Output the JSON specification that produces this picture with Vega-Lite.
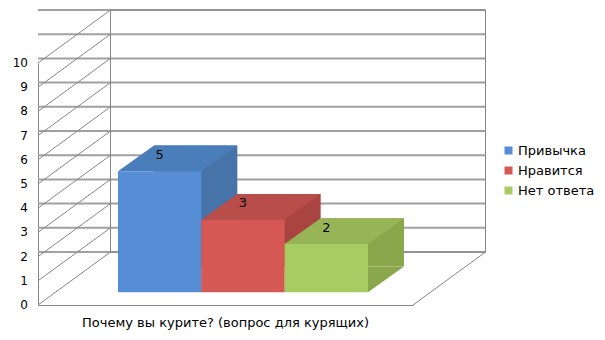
{
  "$schema": "https://vega.github.io/schema/vega-lite/v6.json",
  "width": 375,
  "height": 242,
  "autosize": "none",
  "padding": {"left": 38, "top": 63, "right": 192, "bottom": 35},
  "background": "white",
  "config": {
    "view": {"stroke": null},
    "font": "DejaVu Sans",
    "axisY": {"ticks": false, "grid": false, "labels": false, "domainColor": "#868686", "domainWidth": 1},
    "axisX": {"ticks": false, "grid": false, "domainColor": "#868686", "domainWidth": 1, "labelPadding": 11, "labelFontSize": 13, "labelColor": "#000000", "labelFont": "DejaVu Sans", "labelAngle": 0, "labelLimit": 0}
  },
  "datasets": {
    "answers": [
      {"question": "Почему вы курите? (вопрос для курящих)", "answer": "Привычка", "count": 5},
      {"question": "Почему вы курите? (вопрос для курящих)", "answer": "Нравится", "count": 3},
      {"question": "Почему вы курите? (вопрос для курящих)", "answer": "Нет ответа", "count": 2}
    ],
    "levels": [
      {"level": 0}, {"level": 1}, {"level": 2}, {"level": 3}, {"level": 4}, {"level": 5},
      {"level": 6}, {"level": 7}, {"level": 8}, {"level": 9}, {"level": 10}
    ]
  },
  "resolve": {"scale": {"x": "independent"}},
  "layer": [
    {
      "data": {"name": "levels"},
      "layer": [
        {
          "mark": {"type": "rule", "color": "#A0A0A0", "strokeWidth": 2, "xOffset": 72.5, "x2Offset": 72.5, "yOffset": -53},
          "encoding": {
            "y": {"field": "level", "type": "quantitative", "scale": {"domain": [0, 10], "nice": false}, "axis": {"title": null}}
          }
        },
        {
          "mark": {"type": "rule", "color": "#868686", "strokeWidth": 1, "x2Offset": 72.5, "y2Offset": -53},
          "encoding": {
            "x": {"datum": "Почему вы курите? (вопрос для курящих)", "type": "nominal", "bandPosition": 0, "scale": {"paddingInner": 0, "paddingOuter": 0}, "axis": {"title": null}},
            "x2": {"datum": "Почему вы курите? (вопрос для курящих)", "bandPosition": 0},
            "y": {"field": "level", "type": "quantitative", "axis": {"title": null}},
            "y2": {"field": "level"}
          }
        },
        {
          "transform": [{"filter": "datum.level == 10"}],
          "mark": {"type": "bar", "fill": null, "fillOpacity": 0, "stroke": "#868686", "strokeWidth": 1, "xOffset": 72.5, "x2Offset": 72.5, "yOffset": -53, "y2Offset": -53},
          "encoding": {
            "x": {"datum": "Почему вы курите? (вопрос для курящих)", "type": "nominal", "axis": {"title": null}},
            "y": {"field": "level", "type": "quantitative", "axis": {"title": null}},
            "y2": {"datum": 0}
          }
        },
        {
          "transform": [{"filter": "datum.level == 0"}],
          "mark": {"type": "rule", "color": "#868686", "strokeWidth": 1, "x2Offset": 72.5, "y2Offset": -53},
          "encoding": {
            "x": {"datum": "Почему вы курите? (вопрос для курящих)", "type": "nominal", "bandPosition": 1, "axis": {"title": null}},
            "x2": {"datum": "Почему вы курите? (вопрос для курящих)", "bandPosition": 1},
            "y": {"field": "level", "type": "quantitative", "axis": {"title": null}},
            "y2": {"field": "level"}
          }
        },
        {
          "mark": {"type": "text", "dx": -10, "fontSize": 12, "font": "DejaVu Sans", "color": "#000000", "align": "right", "baseline": "middle"},
          "encoding": {
            "x": {"datum": "Почему вы курите? (вопрос для курящих)", "type": "nominal", "bandPosition": 0, "axis": {"title": null}},
            "y": {"field": "level", "type": "quantitative", "axis": {"title": null}},
            "text": {"field": "level", "type": "quantitative"}
          }
        }
      ]
    },
    {
      "data": {"name": "answers"},
      "resolve": {"scale": {"color": "independent"}},
      "layer": [
        {
          "mark": {"type": "bar", "xOffset": 53.5, "x2Offset": 53.5, "yOffset": -38.4, "y2Offset": -38.4},
          "encoding": {
            "x": {"field": "answer", "type": "nominal", "sort": ["Привычка", "Нравится", "Нет ответа"], "scale": {"paddingInner": 0, "paddingOuter": 0.75}, "axis": null},
            "y": {"field": "count", "type": "quantitative", "axis": {"title": null}},
            "color": {"field": "answer", "type": "nominal", "scale": {"domain": ["Привычка", "Нравится", "Нет ответа"], "range": ["#4673A8", "#A94441", "#8AA74C"]}, "legend": null}
          }
        },
        {
          "mark": {"type": "point", "shape": "M 41.67 0 L 41.67 -25.7 L 77.67 -25.7 Z", "size": 4, "filled": true, "opacity": 1, "strokeWidth": 0, "xOffset": 17.5, "yOffset": -12.7},
          "encoding": {
            "x": {"field": "answer", "type": "nominal", "sort": ["Привычка", "Нравится", "Нет ответа"], "axis": null},
            "y": {"datum": 0, "type": "quantitative", "axis": {"title": null}},
            "color": {"field": "answer", "type": "nominal", "scale": {"domain": ["Привычка", "Нравится", "Нет ответа"], "range": ["#4673A8", "#A94441", "#8AA74C"]}, "legend": null}
          }
        },
        {
          "mark": {"type": "point", "shape": "M -41.67 0 L 41.67 0 L 77.67 -25.7 L -5.67 -25.7 Z", "size": 4, "filled": true, "opacity": 1, "strokeWidth": 0, "xOffset": 17.5, "yOffset": -12.7},
          "encoding": {
            "x": {"field": "answer", "type": "nominal", "sort": ["Привычка", "Нравится", "Нет ответа"], "axis": null},
            "y": {"field": "count", "type": "quantitative", "axis": {"title": null}},
            "color": {"field": "answer", "type": "nominal", "scale": {"domain": ["Привычка", "Нравится", "Нет ответа"], "range": ["#4A7EBB", "#B84D4A", "#97B456"]}, "legend": null}
          }
        },
        {
          "mark": {"type": "bar", "xOffset": 17.5, "x2Offset": 17.5, "yOffset": -12.7, "y2Offset": -12.7},
          "encoding": {
            "x": {"field": "answer", "type": "nominal", "sort": ["Привычка", "Нравится", "Нет ответа"], "axis": null},
            "y": {"field": "count", "type": "quantitative", "axis": {"title": null}},
            "color": {"field": "answer", "type": "nominal", "scale": {"domain": ["Привычка", "Нравится", "Нет ответа"], "range": ["#558ED5", "#D55855", "#A9CC62"]},
              "legend": {"orient": "none", "legendX": 464, "legendY": 81, "title": null, "symbolType": "square", "symbolSize": 64, "symbolStrokeWidth": 0, "labelFontSize": 13, "labelFont": "DejaVu Sans", "labelColor": "#000000", "labelOffset": 3, "rowPadding": 6, "padding": 0}}
          }
        },
        {
          "mark": {"type": "text", "dx": 17.5, "dy": -29, "fontSize": 13, "font": "DejaVu Sans", "color": "#000000", "baseline": "middle", "align": "center"},
          "encoding": {
            "x": {"field": "answer", "type": "nominal", "sort": ["Привычка", "Нравится", "Нет ответа"], "axis": null},
            "y": {"field": "count", "type": "quantitative", "axis": {"title": null}},
            "text": {"field": "count", "type": "quantitative"}
          }
        }
      ]
    }
  ]
}
